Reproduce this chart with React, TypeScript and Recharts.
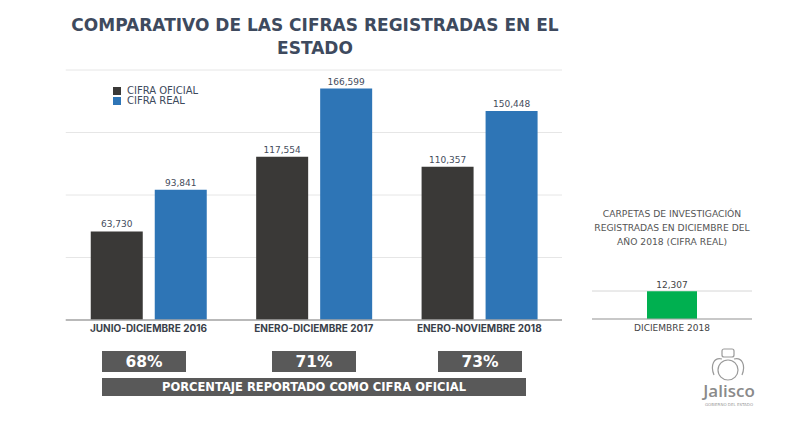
import { BarChart, Bar, XAxis, YAxis, CartesianGrid, LabelList } from 'recharts'

const periods = ['JUNIO-DICIEMBRE 2016', 'ENERO-DICIEMBRE 2017', 'ENERO-NOVIEMBRE 2018']
const cifraOficial = [63730, 117554, 110357]
const cifraReal = [93841, 166599, 150448]
const mainTicks = [0, 45000, 90000, 135000, 180000]

const percentages = ['68%', '71%', '73%']

const decCategories = ['DICIEMBRE 2018']
const decValues = [12307]
const decTicks = [0, 3100, 6200, 9300, 12400]

const mainData = periods.map((p, i) => ({ period: p, oficial: cifraOficial[i], real: cifraReal[i] }))
const decData = decCategories.map((c, i) => ({ cat: c, value: decValues[i] }))

const FONT = '"DejaVu Sans", Verdana, sans-serif'
const NARROW = 'Inter, Roboto, sans-serif'
const fmt = (v: any) => Number(v).toLocaleString('en-US')

function PeriodTick({ x, y, payload }: any) {
  return (
    <text x={x} y={y} dy={12} textAnchor="middle" fontSize={10} fontWeight={700} fill="#3a3f4a" fontFamily={NARROW}>
      {payload.value}
    </text>
  )
}

function DecTick({ x, y, payload }: any) {
  return (
    <text x={x} y={y} dy={12} textAnchor="middle" fontSize={9} fill="#444" fontFamily={FONT}>
      {payload.value}
    </text>
  )
}

function LegendBox() {
  const items = [
    { label: 'CIFRA OFICIAL', color: '#3a3937' },
    { label: 'CIFRA REAL', color: '#2e75b6' },
  ]
  return (
    <div style={{ position: 'absolute', left: 113, top: 86, fontFamily: FONT, fontSize: 10, color: '#3d4a5c', lineHeight: '10px' }}>
      {items.map((it) => (
        <div key={it.label} style={{ display: 'flex', alignItems: 'center' }}>
          <span style={{ width: 8, height: 8, background: it.color, marginRight: 6, display: 'inline-block' }} />
          {it.label}
        </div>
      ))}
    </div>
  )
}

export default function App() {
  const box = (left: number, width: number, top: number, height: number) => ({
    position: 'absolute' as const,
    left,
    top,
    width,
    height,
    background: '#595959',
    color: '#fff',
    fontFamily: FONT,
    fontWeight: 700,
    display: 'flex',
    alignItems: 'center',
    justifyContent: 'center',
  })

  return (
    <div style={{ position: 'absolute', left: 0, top: 0, width: 792, height: 428, background: '#fff', overflow: 'hidden' }}>
      <div
        style={{
          position: 'absolute', left: 35, top: 14, width: 560, textAlign: 'center',
          fontFamily: FONT, fontWeight: 700, fontSize: 17, lineHeight: '23px', color: '#3e4a5e',
        }}
      >
        COMPARATIVO DE LAS CIFRAS REGISTRADAS EN EL
        <br />
        ESTADO
      </div>

      <div style={{ position: 'absolute', left: 0, top: 0 }}>
        <BarChart
          width={600}
          height={340}
          data={mainData}
          margin={{ top: 70, left: 65.75, right: 38, bottom: 0 }}
          barSize={52}
          barGap={12}
        >
          <CartesianGrid vertical={false} stroke="#e6e6e6" />
          <YAxis hide domain={[0, 180000]} ticks={mainTicks} />
          <XAxis
            dataKey="period"
            height={20}
            tickLine={false}
            tickSize={0}
            tickMargin={0}
            axisLine={{ stroke: '#a6a6a6', strokeWidth: 1.5 }}
            tick={<PeriodTick />}
            interval={0}
          />
          <Bar dataKey="oficial" fill="#3a3937" isAnimationActive={false}>
            <LabelList dataKey="oficial" position="top" formatter={fmt} fontSize={9} fill="#444c5c" fontFamily={FONT} offset={4} />
          </Bar>
          <Bar dataKey="real" fill="#2e75b6" isAnimationActive={false}>
            <LabelList dataKey="real" position="top" formatter={fmt} fontSize={9} fill="#444c5c" fontFamily={FONT} offset={4} />
          </Bar>
        </BarChart>
      </div>
      <LegendBox />

      <div
        style={{
          position: 'absolute', left: 572, top: 207, width: 200, textAlign: 'center',
          fontFamily: FONT, fontSize: 9.2, lineHeight: '14px', color: '#555',
        }}
      >
        CARPETAS DE INVESTIGACIÓN
        <br />
        REGISTRADAS EN DICIEMBRE DEL
        <br />
        AÑO 2018 (CIFRA REAL)
      </div>

      <div style={{ position: 'absolute', left: 580, top: 270 }}>
        <BarChart width={185} height={70} data={decData} margin={{ top: 21, left: 12, right: 13, bottom: 0 }} barSize={50}>
          <CartesianGrid vertical={false} stroke="#d6d6d6" />
          <YAxis hide domain={[0, 12400]} ticks={decTicks} />
          <XAxis
            dataKey="cat"
            height={21}
            tickLine={false}
            tickSize={0}
            tickMargin={0}
            axisLine={{ stroke: '#a6a6a6', strokeWidth: 1.2 }}
            tick={<DecTick />}
          />
          <Bar dataKey="value" fill="#00b050" isAnimationActive={false}>
            <LabelList dataKey="value" position="top" formatter={fmt} fontSize={9} fill="#444" fontFamily={FONT} offset={3} />
          </Bar>
        </BarChart>
      </div>

      <div style={{ ...box(102, 84, 351, 21), fontSize: 15.5 }}>{percentages[0]}</div>
      <div style={{ ...box(272, 84, 351, 21), fontSize: 15.5 }}>{percentages[1]}</div>
      <div style={{ ...box(438, 84, 351, 21), fontSize: 15.5 }}>{percentages[2]}</div>
      <div style={{ ...box(102, 424, 378, 18), fontSize: 11.5 }}>PORCENTAJE REPORTADO COMO CIFRA OFICIAL</div>

      <svg style={{ position: 'absolute', left: 700, top: 345 }} width={60} height={40}>
        <g fill="none" stroke="#9a9a9a" strokeWidth={1.2}>
          <circle cx={28} cy={25} r={10} />
          <path d="M14 30 C10 20 14 12 22 14 M42 30 C46 20 42 12 34 14" />
          <rect x={22} y={4} width={12} height={8} rx={2} />
        </g>
      </svg>
      <div style={{ position: 'absolute', left: 694, top: 379, width: 70, textAlign: 'center', fontFamily: '"Open Sans", sans-serif', fontWeight: 600, fontSize: 17, color: '#8a8a8a' }}>
        Jalisco
      </div>
      <div style={{ position: 'absolute', left: 694, top: 402, width: 70, textAlign: 'center', fontFamily: FONT, fontSize: 4, color: '#999' }}>
        GOBIERNO DEL ESTADO
      </div>
    </div>
  )
}
